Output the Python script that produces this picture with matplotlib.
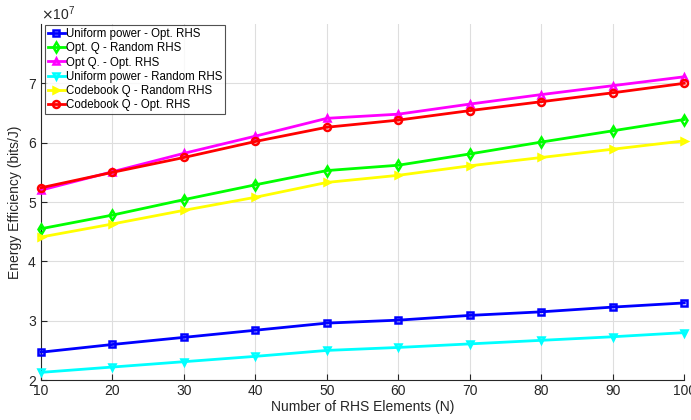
import numpy as np
import matplotlib
matplotlib.use('Agg')
import matplotlib.pyplot as plt
from matplotlib.ticker import ScalarFormatter

plt.rcParams['font.family'] = ['Liberation Sans', 'DejaVu Sans']

# number of RHS elements
n_elements = [10, 20, 30, 40, 50, 60, 70, 80, 90, 100]

# energy efficiency, in units of 1e7 bits/J
uniform_opt = [2.47, 2.60, 2.72, 2.84, 2.96, 3.01, 3.09, 3.15, 3.23, 3.30]
optq_random = [4.55, 4.78, 5.04, 5.29, 5.53, 5.62, 5.81, 6.01, 6.20, 6.39]
optq_opt = [5.20, 5.51, 5.82, 6.11, 6.41, 6.48, 6.65, 6.81, 6.96, 7.11]
uniform_random = [2.13, 2.22, 2.31, 2.40, 2.50, 2.55, 2.61, 2.67, 2.73, 2.80]
codebook_random = [4.41, 4.63, 4.86, 5.08, 5.33, 5.45, 5.61, 5.75, 5.89, 6.03]
codebook_opt = [5.24, 5.50, 5.75, 6.02, 6.26, 6.38, 6.54, 6.69, 6.84, 7.00]

series = [
    ("Uniform power - Opt. RHS", uniform_opt, '#0000ff', 's'),
    ("Opt. Q - Random RHS", optq_random, '#00ff00', 'd'),
    ("Opt Q. - Opt. RHS", optq_opt, '#ff00ff', '^'),
    ("Uniform power - Random RHS", uniform_random, '#00ffff', 'v'),
    ("Codebook Q - Random RHS", codebook_random, '#ffff00', '>'),
    ("Codebook Q - Opt. RHS", codebook_opt, '#ff0000', 'o'),
]

fig = plt.figure(figsize=(6.91, 4.20), dpi=100)
ax = fig.add_axes([0.0593, 0.095, 0.931, 0.848])

for label, vals, color, marker in series:
    ax.plot(n_elements, np.array(vals) * 1e7, color=color, marker=marker,
            linewidth=2, markersize=5, markerfacecolor='none',
            markeredgewidth=1.8, label=label, clip_on=False, zorder=3)

ax.set_xlim(10, 100)
ax.set_ylim(2e7, 8e7)
ax.set_xticks(n_elements)
ax.set_yticks([2e7, 3e7, 4e7, 5e7, 6e7, 7e7])

fmt = ScalarFormatter(useMathText=True)
fmt.set_powerlimits((0, 0))
ax.yaxis.set_major_formatter(fmt)
ax.yaxis.get_offset_text().set_fontsize(10)

ax.grid(True, color='#dedede', linewidth=0.8)
ax.set_axisbelow(True)
for side in ['top', 'right']:
    ax.spines[side].set_visible(False)
for side in ['left', 'bottom']:
    ax.spines[side].set_color('#262626')
    ax.spines[side].set_linewidth(0.8)
ax.tick_params(direction='in', length=4, labelsize=10, colors='#262626',
               labelcolor='#262626', pad=3)

ax.set_xlabel("Number of RHS Elements (N)", fontsize=10, color='#262626', labelpad=1)
ax.set_ylabel("Energy Efficiency (bits/J)", fontsize=10, color='#262626', labelpad=4)

leg = ax.legend(loc='upper left', bbox_to_anchor=(0.006, 0.997), fontsize=8.3,
                frameon=True, fancybox=False, edgecolor='#262626',
                handlelength=1.5, handletextpad=0.1, labelspacing=0.2,
                borderpad=0.25, borderaxespad=0)
leg.get_frame().set_linewidth(0.8)

plt.savefig("out.png", dpi=100)
